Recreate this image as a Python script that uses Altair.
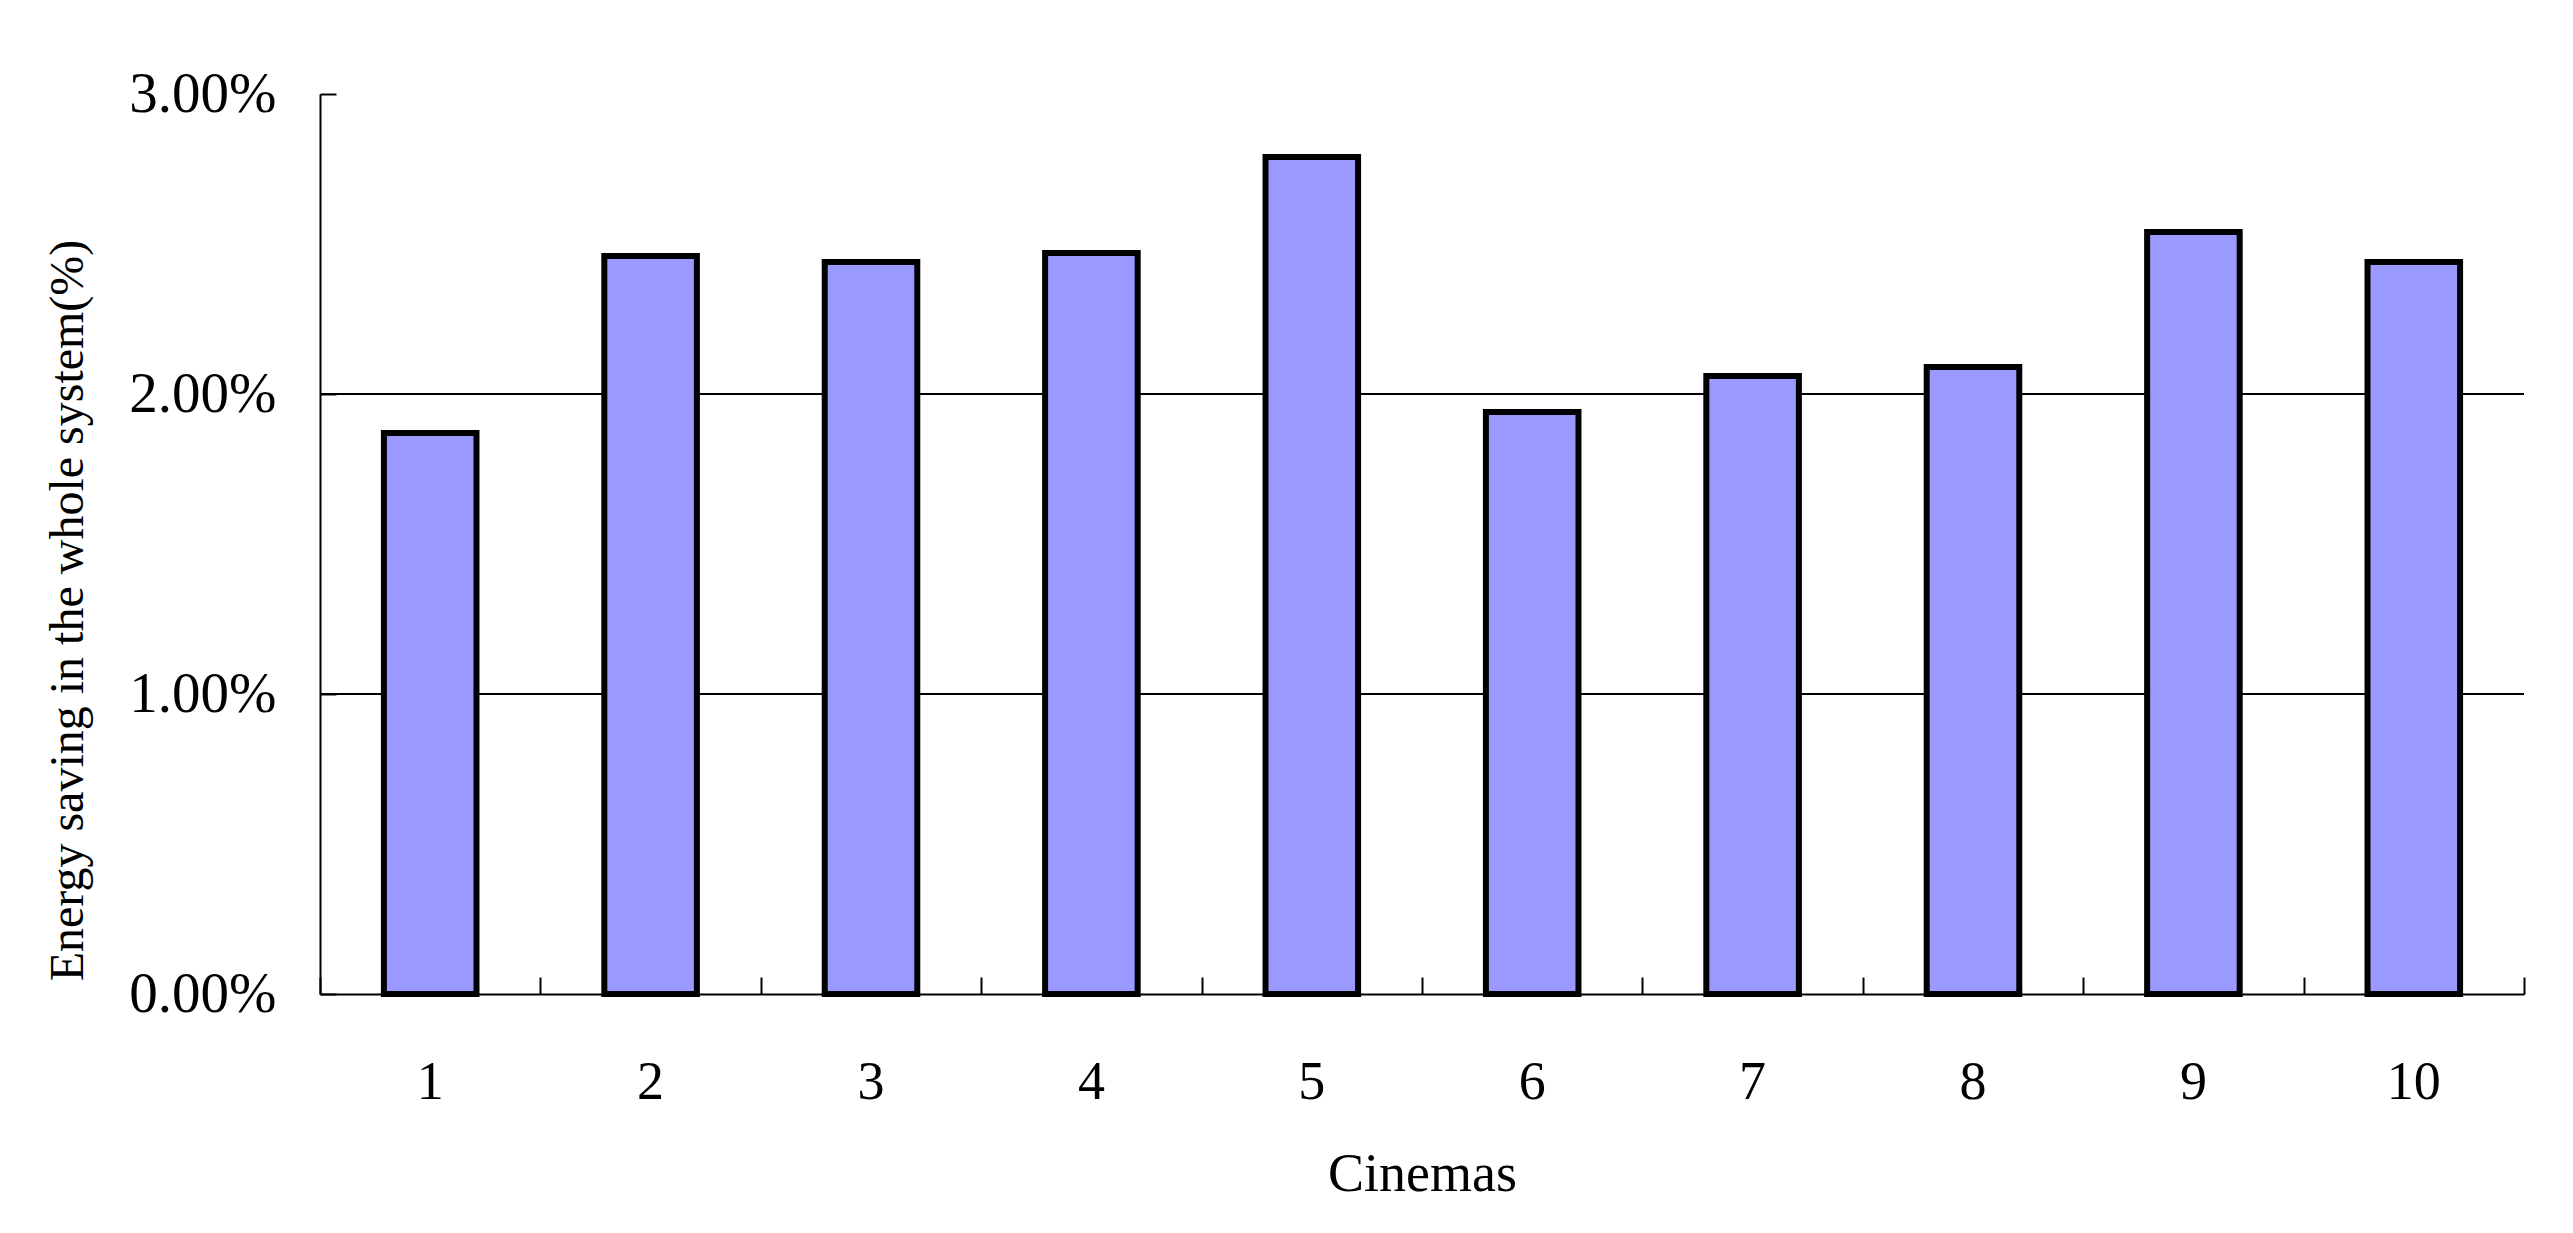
import altair as alt
import pandas as pd

cinemas = ["1", "2", "3", "4", "5", "6", "7", "8", "9", "10"]
savings = [0.0187, 0.0246, 0.0244, 0.0247, 0.0279, 0.0194, 0.0206, 0.0209, 0.0254, 0.0244]
y_ticks = [0.0, 0.01, 0.02, 0.03]
grid_vals = [0.01, 0.02]

df = pd.DataFrame({"cinema": cinemas, "saving": savings})
grid_df = pd.DataFrame({"g": grid_vals})

W, H = 2204, 900
FONT = "Liberation Serif"
FS = 54

xscale = alt.Scale(paddingInner=0, paddingOuter=0)
yscale = alt.Scale(domain=[0, 0.03], nice=False, zero=True)

grid = alt.Chart(grid_df).mark_rule(color="black", strokeWidth=2).encode(
    y=alt.Y("g:Q", scale=yscale, axis=None)
)

ticks_layer = alt.Chart(df).mark_bar(opacity=0).encode(
    x=alt.X("cinema:O", sort=cinemas, scale=xscale,
            axis=alt.Axis(orient="top", offset=-H, labels=False, domain=False,
                          ticks=True, tickBand="extent", tickSize=17,
                          tickColor="black", tickWidth=2, title=None, grid=False)),
    y=alt.Y("saving:Q", scale=yscale,
            axis=alt.Axis(orient="right", offset=-W, labels=False, domain=False,
                          ticks=True, values=y_ticks, tickSize=16,
                          tickColor="black", tickWidth=2, title=None, grid=False)),
)

bars = alt.Chart(df).mark_bar(
    fill="#9999FF", stroke="black", strokeWidth=6,
    width=alt.RelativeBandSize(0.42)
).encode(
    x=alt.X("cinema:O", sort=cinemas, scale=xscale,
            axis=alt.Axis(orient="bottom", title="Cinemas", labelAngle=0,
                          ticks=False, domain=True, domainColor="black",
                          domainWidth=2, labelFont=FONT, labelFontSize=FS,
                          labelColor="black", labelPadding=61,
                          titleFont=FONT, titleFontSize=FS,
                          titleFontWeight="normal", titleColor="black",
                          titlePadding=38, grid=False)),
    y=alt.Y("saving:Q", scale=yscale,
            axis=alt.Axis(orient="left", title="Energy saving in the whole system(%)",
                          format=".2%", values=y_ticks, ticks=False, domain=True,
                          domainColor="black", domainWidth=2, labelFont=FONT,
                          labelFontSize=57, labelColor="black", labelPadding=44,
                          titleFont=FONT, titleFontSize=48,
                          titleFontWeight="normal", titleColor="black",
                          titlePadding=36, titleY=516, grid=False)),
)

chart = alt.layer(grid, ticks_layer, bars).resolve_axis(
    x="independent", y="independent"
).properties(
    width=W, height=H,
    background="white",
    autosize=alt.AutoSizeParams(type="none"),
    padding={"left": 312, "top": 86, "right": 30, "bottom": 220},
).configure_view(stroke=None)

chart.save("out.html", embed_options={"renderer": "svg", "actions": False})
